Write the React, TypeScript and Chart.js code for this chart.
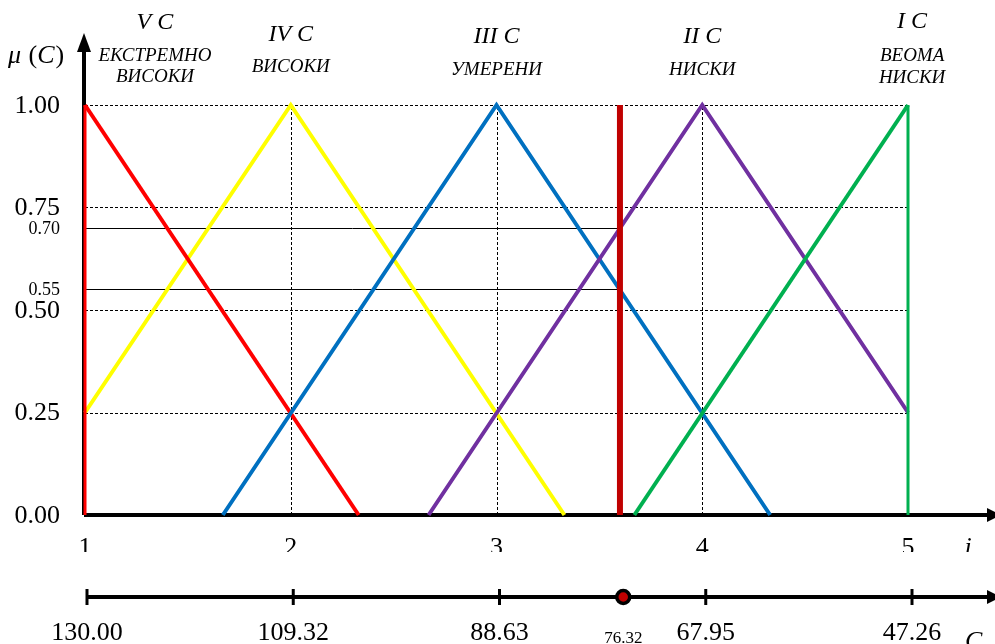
import React, { useEffect, useRef } from "react";
import { Chart, registerables } from "chart.js";
Chart.register(...registerables);

// ---- data ----
const setNumerals = ["V C", "IV C", "III C", "II C", "I C"];
const setNames = [["ЕКСТРЕМНО", "ВИСОКИ"], ["ВИСОКИ"], ["УМЕРЕНИ"], ["НИСКИ"], ["ВЕОМА", "НИСКИ"]];
const iTicks = [1, 2, 3, 4, 5];
const ciTickLabels = ["130.00", "109.32", "88.63", "67.95", "47.26"];
const muTicks = [0, 0.25, 0.5, 0.75, 1];
const muTickLabels = ["0.00", "0.25", "0.50", "0.75", "1.00"];

// membership functions (i, mu)
const setV_i = [1, 2.33];
const setV_mu = [1, 0];
const setV_edge_i = [1, 1];
const setV_edge_mu = [0, 1];
const setIV_i = [1, 2, 3.33];
const setIV_mu = [0.25, 1, 0];
const setIII_i = [1.67, 3, 4.33];
const setIII_mu = [0, 1, 0];
const setII_i = [2.67, 4, 5];
const setII_mu = [0, 1, 0.25];
const setI_i = [3.67, 5];
const setI_mu = [0, 1];
const setI_edge_i = [5, 5];
const setI_edge_mu = [1, 0];

// current value
const currentI = 3.6;
const currentCLabel = "76.32";
const muLevels = [0.7, 0.55];
const muLevelLabels = ["0.70", "0.55"];

// ---- layout (not data) ----
const FONT = "'Liberation Serif', 'Times New Roman', serif";
const titleAnchors = [1.34, 2, 3, 4, 5.02];
const titleBaselines = [29, 41, 43, 43, 28];
const nameBaselines = [[61, 82], [72], [75], [75], [61, 83]];
const lowerAxisMu = -0.2;

const pts = (xs: number[], ys: number[]) => xs.map((v, k) => ({ x: v, y: ys[k] }));

const decorPlugin = {
  id: "fuzzyDecor",
  beforeDatasetsDraw(chart: any) {
    const ctx = chart.ctx as CanvasRenderingContext2D;
    const sx = chart.scales.x;
    const sx2 = chart.scales.x2;
    const sy = chart.scales.y;
    const X = (v: number) => sx.getPixelForValue(v);
    const X2 = (v: number) => sx2.getPixelForValue(v);
    const Y = (v: number) => sy.getPixelForValue(v);
    const line = (a: number, b: number, c: number, d: number) => {
      ctx.beginPath();
      ctx.moveTo(a, b);
      ctx.lineTo(c, d);
      ctx.stroke();
    };
    ctx.save();
    // dotted grid
    ctx.strokeStyle = "#000";
    ctx.lineWidth = 1;
    ctx.setLineDash([3, 2]);
    muTicks.slice(1).forEach((m) => line(X(iTicks[0]), Math.round(Y(m)) + 0.5, X(iTicks[4]), Math.round(Y(m)) + 0.5));
    iTicks.slice(1).forEach((t) => line(Math.round(X(t)) + 0.5, Y(0), Math.round(X(t)) + 0.5, Y(1)));
    ctx.setLineDash([]);
    // level lines
    ctx.strokeStyle = "#000";
    ctx.lineWidth = 1;
    muLevels.forEach((m) => line(X(1), Math.round(Y(m)) + 0.5, X(currentI), Math.round(Y(m)) + 0.5));
    // axes
    ctx.strokeStyle = "#000";
    ctx.fillStyle = "#000";
    ctx.lineWidth = 4;
    const right = chart.width;
    // i axis
    line(X(1) - 1, Y(0), right - 8, Y(0));
    ctx.beginPath();
    ctx.moveTo(right + 6, Y(0));
    ctx.lineTo(right - 8, Y(0) - 7);
    ctx.lineTo(right - 8, Y(0) + 7);
    ctx.closePath();
    ctx.fill();
    // mu axis
    const ax = X(1) - 1;
    line(ax, Y(0), ax, 50);
    ctx.beginPath();
    ctx.moveTo(ax, 33);
    ctx.lineTo(ax - 7, 52);
    ctx.lineTo(ax + 7, 52);
    ctx.closePath();
    ctx.fill();
    // lower C axis
    const ly = Y(lowerAxisMu);
    line(X2(1), ly, right - 8, ly);
    ctx.beginPath();
    ctx.moveTo(right + 6, ly);
    ctx.lineTo(right - 8, ly - 7);
    ctx.lineTo(right - 8, ly + 7);
    ctx.closePath();
    ctx.fill();
    ctx.lineWidth = 3;
    iTicks.forEach((t) => line(X2(t), ly - 8, X2(t), ly + 8));
    ctx.restore();
  },
  afterDatasetsDraw(chart: any) {
    const ctx = chart.ctx as CanvasRenderingContext2D;
    const sx = chart.scales.x;
    const sx2 = chart.scales.x2;
    const sy = chart.scales.y;
    const X = (v: number) => sx.getPixelForValue(v);
    const X2 = (v: number) => sx2.getPixelForValue(v);
    const Y = (v: number) => sy.getPixelForValue(v);
    ctx.save();
    ctx.fillStyle = "#000";
    // y tick labels
    ctx.textAlign = "right";
    ctx.textBaseline = "middle";
    ctx.font = `26px ${FONT}`;
    muTicks.forEach((m, k) => ctx.fillText(muTickLabels[k], 60, Y(m) + 1));
    ctx.font = `18px ${FONT}`;
    muLevels.forEach((m, k) => ctx.fillText(muLevelLabels[k], 60, Y(m) + 1));
    // mu (C)
    ctx.textAlign = "left";
    ctx.textBaseline = "alphabetic";
    let px = 8;
    const parts: [string, boolean][] = [["μ", true], [" (", false], ["C", true], [")", false]];
    parts.forEach(([s, it]) => {
      ctx.font = `${it ? "italic " : ""}26px ${FONT}`;
      ctx.fillText(s, px, 63);
      px += ctx.measureText(s).width + (it ? 1 : 0);
    });
    // set titles
    ctx.textAlign = "center";
    setNumerals.forEach((s, k) => {
      ctx.font = `italic 24px ${FONT}`;
      ctx.fillText(s, X(titleAnchors[k]), titleBaselines[k]);
      ctx.font = `italic 19px ${FONT}`;
      setNames[k].forEach((n, j) => ctx.fillText(n, X(titleAnchors[k]), nameBaselines[k][j]));
    });
    // i tick labels (clipped like the original)
    ctx.save();
    ctx.beginPath();
    ctx.rect(0, 0, chart.width, 552);
    ctx.clip();
    ctx.font = `26px ${FONT}`;
    iTicks.forEach((t) => ctx.fillText(String(t), X(t), 555));
    ctx.font = `italic 26px ${FONT}`;
    ctx.fillText("i", 968, 555);
    ctx.restore();
    // C tick labels
    ctx.font = `26px ${FONT}`;
    iTicks.forEach((t, k) => ctx.fillText(ciTickLabels[k], X2(t), 640));
    ctx.font = `17px ${FONT}`;
    ctx.fillText(currentCLabel, X2(currentI), 643);
    ctx.textAlign = "left";
    ctx.font = `italic 26px ${FONT}`;
    ctx.fillText("C", 965, 649);
    ctx.font = `italic 17px ${FONT}`;
    ctx.fillText("i", 985, 655);
    ctx.restore();
  },
};

export default function App() {
  const ref = useRef<HTMLCanvasElement | null>(null);
  useEffect(() => {
    if (!ref.current) return;
    const lineDs = (data: any[], color: string, width: number, extra: any = {}) => ({
      data,
      borderColor: color,
      backgroundColor: color,
      borderWidth: width,
      showLine: true,
      pointRadius: 0,
      fill: false,
      tension: 0,
      clip: false,
      ...extra,
    });
    const list: any[] = [
      lineDs(pts(setIV_i, setIV_mu), "#FFFF00", 4),
      lineDs(pts(setV_i, setV_mu), "#FF0000", 4),
      lineDs(pts(setV_edge_i, setV_edge_mu), "#FF0000", 3),
      lineDs(pts(setIII_i, setIII_mu), "#0070C0", 4),
      lineDs(pts(setII_i, setII_mu), "#7030A0", 4),
      lineDs(pts(setI_i, setI_mu), "#00B050", 4),
      lineDs(pts(setI_edge_i, setI_edge_mu), "#00B050", 3),
      lineDs(pts([currentI, currentI], [0, 1]), "#C00000", 6),
      {
        data: [{ x: currentI, y: lowerAxisMu }],
        xAxisID: "x2",
        pointRadius: 6.5,
        pointBackgroundColor: "#C00000",
        pointBorderColor: "#000",
        pointBorderWidth: 3.5,
        showLine: false,
        clip: false,
      },
    ];
    list.forEach((d, k) => (d.order = list.length - k));
    const chart = new Chart(ref.current, {
      type: "scatter",
      data: { datasets: list },
      options: {
        animation: false,
        responsive: false,
        devicePixelRatio: 1,
        layout: { padding: 0, autoPadding: false },
        plugins: { legend: { display: false }, tooltip: { enabled: false } },
        scales: {
          x: { type: "linear", display: false, min: 1 - 85 / 205.75, max: 1 + 910 / 205.75 },
          x2: { type: "linear", axis: "x", display: false, min: 1 - 87 / 206.25, max: 1 + 908 / 206.25 },
          y: { type: "linear", display: false, min: -129 / 410, max: 1 + 105 / 410 },
        },
      },
      plugins: [decorPlugin],
    } as any);
    return () => chart.destroy();
  }, []);
  return (
    <div style={{ position: "absolute", left: 0, top: 0, width: 995, height: 644, background: "#fff" }}>
      <canvas ref={ref} width={995} height={644} style={{ display: "block" }} />
    </div>
  );
}
